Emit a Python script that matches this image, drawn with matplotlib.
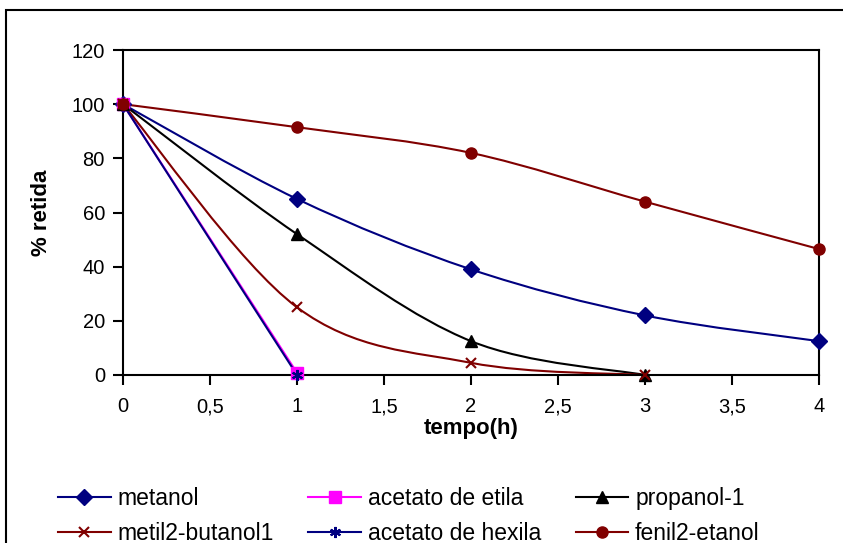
import matplotlib
matplotlib.use("Agg")
from matplotlib import pyplot as plt
from matplotlib.path import Path
from matplotlib.patches import PathPatch, Rectangle
from matplotlib.lines import Line2D

plt.rcParams["font.family"] = ["Liberation Sans", "DejaVu Sans"]

tempo = [0, 1, 2, 3, 4]
metanol = [100, 65, 39, 22, 12.5]
acetato_etila = [100, 0.8]
propanol = [100, 52, 12.5, 0]
metil2_butanol = [100, 25, 4.5, 0]
acetato_hexila = [100, 0]
fenil2_etanol = [100, 91.5, 82, 64, 46.5]

xticks = [0, 0.5, 1, 1.5, 2, 2.5, 3, 3.5, 4]
xticklabels = ["0", "0,5", "1", "1,5", "2", "2,5", "3", "3,5", "4"]
yticks = [0, 20, 40, 60, 80, 100, 120]


def smooth_path(xs, ys):
    # excel-style smoothed line as bezier segments
    pts = list(zip(xs, ys))
    verts = [pts[0]]
    codes = [Path.MOVETO]
    n = len(pts)
    for i in range(n - 1):
        p0 = pts[max(i - 1, 0)]
        p1 = pts[i]
        p2 = pts[i + 1]
        p3 = pts[min(i + 2, n - 1)]
        c1 = (p1[0] + (p2[0] - p0[0]) / 6, p1[1] + (p2[1] - p0[1]) / 6)
        c2 = (p2[0] - (p3[0] - p1[0]) / 6, p2[1] - (p3[1] - p1[1]) / 6)
        verts += [c1, c2, p2]
        codes += [Path.CURVE4] * 3
    return Path(verts, codes)


series = [
    ("metanol", metanol, "#000080", "D", 8),
    ("acetato de etila", acetato_etila, "#FF00FF", "s", 8),
    ("propanol-1", propanol, "black", "^", 9),
    ("metil2-butanol1", metil2_butanol, "#800000", "x", 7),
    ("acetato de hexila", acetato_hexila, "#000080", (6, 2, 0), 8),
    ("fenil2-etanol", fenil2_etanol, "#800000", "o", 8),
]

fig = plt.figure(figsize=(8.43, 5.43), dpi=100)
fig.patches.append(Rectangle((6 / 843, -0.1), 1.2, 1 - 10 / 543 + 0.1,
                             transform=fig.transFigure, fill=False,
                             edgecolor="black", linewidth=1.5))
ax = fig.add_axes([123 / 843, 1 - 375 / 543, (819 - 123) / 843, (375 - 50) / 543])

handles = []
for name, vals, color, marker, ms in series:
    xs = tempo[:len(vals)]
    ax.add_patch(PathPatch(smooth_path(xs, vals), fill=False, edgecolor=color,
                           linewidth=1.5, clip_on=False))
    mew = 1.5 if marker in ("x", (6, 2, 0)) else 1
    ax.plot(xs, vals, linestyle="none", marker=marker, markersize=ms,
            color=color, markeredgewidth=mew, clip_on=False, zorder=3)
    handles.append(Line2D([], [], color=color, marker=marker, markersize=ms,
                          markeredgewidth=mew, linewidth=1.5, label=name))

ax.set_xlim(0, 4)
ax.set_ylim(0, 120)
ax.set_xticks(xticks)
ax.set_xticklabels(xticklabels)
ax.set_yticks(yticks)
for s in ax.spines.values():
    s.set_linewidth(1.5)
ax.tick_params(direction="out", length=7, width=1.5, labelsize=14.5)
ax.tick_params(axis="x", pad=9)
ax.tick_params(axis="y", pad=6)
ax.set_xlabel("tempo(h)", fontsize=16, fontweight="bold", labelpad=1)
ax.set_ylabel("% retida", fontsize=16, fontweight="bold", labelpad=14)

order = [0, 3, 1, 4, 2, 5]
fig.legend([handles[i] for i in order], [handles[i].get_label() for i in order],
           ncol=3, loc="center", bbox_to_anchor=(0.485, 0.05), frameon=False,
           fontsize=16.5, handlelength=2.3, columnspacing=1.5, labelspacing=0.5,
           handletextpad=0.3)

fig.savefig("out.png", dpi=100)
